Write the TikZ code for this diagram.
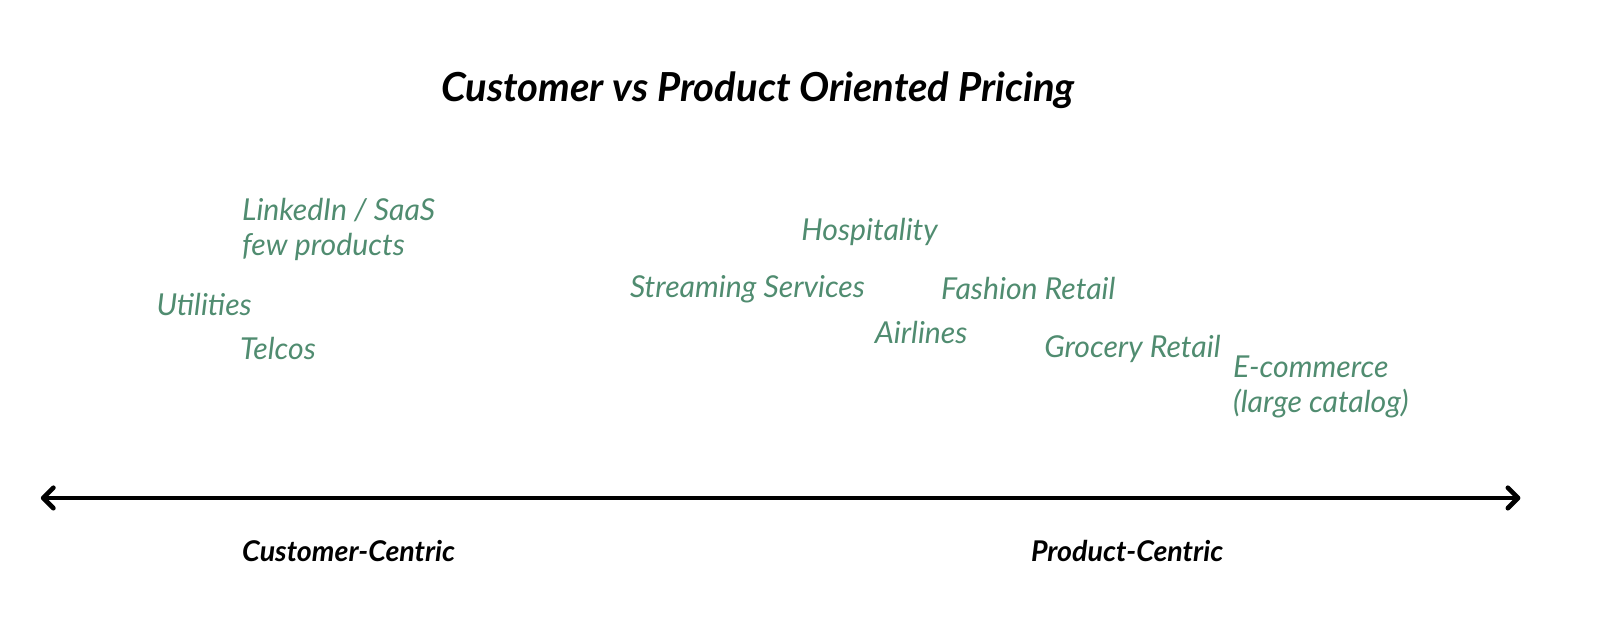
\documentclass[tikz,border=0pt]{standalone}
\usepackage{fontspec}
\setmainfont{Lato}
\usetikzlibrary{arrows.meta}
\definecolor{tagGreen}{RGB}{80,140,112}
\begin{document}
\begin{tikzpicture}[x=0.5pt,y=-0.5pt,
    tag/.style={anchor=west,inner sep=0pt,text=tagGreen,align=left,font=\itshape\fontsize{14.8}{17}\selectfont},
    axislabel/.style={anchor=west,inner sep=0pt,font=\bfseries\itshape\fontsize{14}{16}\selectfont}]
    \useasboundingbox (0,0) rectangle (1568,621.3) ;

    \node[anchor=west,inner sep=0pt,font=\bfseries\itshape\fontsize{19.6}{23}\selectfont] (title) at (432,88) {Customer vs Product Oriented Pricing} ;

    \node[tag] (linkedin) at (237,225) {LinkedIn / SaaS\\few products} ;
    \node[tag] (utilities) at (153,298) {Utilities} ;
    \node[tag] (telcos) at (235,342) {Telcos} ;
    \node[tag] (hospitality) at (785,227) {Hospitality} ;
    \node[tag] (streaming) at (617,283) {Streaming Services} ;
    \node[tag] (fashion) at (922,283) {Fashion Retail} ;
    \node[tag] (airlines) at (857,326) {Airlines} ;
    \node[tag] (grocery) at (1023,342) {Grocery Retail} ;
    \node[tag] (ecommerce) at (1208,379) {E-commerce\\(large catalog)} ;

    \coordinate (axis_left) at (40,488) ;
    \coordinate (axis_right) at (1490,488) ;
    \draw[{Straight Barb[length=5pt,width=10pt,round]}-{Straight Barb[length=5pt,width=10pt,round]}, line width=2.3pt] (axis_left) -- (axis_right) ;

    \node[axislabel] (customer) at (237,540) {Customer-Centric} ;
    \node[axislabel] (product) at (1010,540) {Product-Centric} ;
\end{tikzpicture}
\end{document}
